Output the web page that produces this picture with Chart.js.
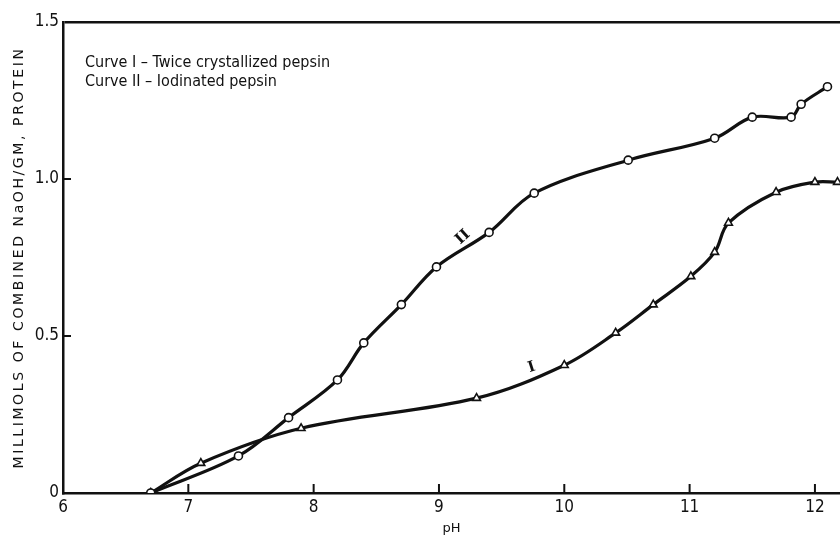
<!DOCTYPE html>
<html>
<head>
<meta charset="utf-8">
<script src="https://cdn.jsdelivr.net/npm/chart.js@4"></script>
<style>
  html, body { margin: 0; padding: 0; background: #fff; }
  #wrap { width: 840px; height: 538px; }
</style>
</head>
<body>
<div id="wrap"><canvas id="myChart" width="840" height="538"></canvas></div>
<script>
// Curve II - iodinated pepsin (circles)
const phII = [6.7, 7.4, 7.8, 8.19, 8.4, 8.7, 8.98, 9.4, 9.76, 10.51, 11.2, 11.5, 11.81, 11.89, 12.1];
const valII = [0, 0.118, 0.24, 0.36, 0.478, 0.60, 0.72, 0.83, 0.955, 1.06, 1.13, 1.197, 1.197, 1.238, 1.294];

// Curve I - twice crystallized pepsin (triangles)
const phI = [6.7, 7.1, 7.9, 9.3, 10.0, 10.41, 10.71, 11.01, 11.2, 11.31, 11.69, 12.0, 12.18];
const valI = [0, 0.095, 0.206, 0.302, 0.407, 0.51, 0.60, 0.69, 0.767, 0.86, 0.958, 0.99, 0.99];

const xTicks = [6, 7, 8, 9, 10, 11, 12];
const yTicks = [0, 0.5, 1.0, 1.5];
const yTickLabels = ['0', '0.5', '1.0', '1.5'];

const yTitle = 'MILLIMOLS OF COMBINED NaOH/GM, PROTEIN';
const legendLines = ['Curve I \u2013 Twice crystallized pepsin', 'Curve II \u2013 Iodinated pepsin'];
// curve tags: [pH, value, text, angle]
const curveTags = [[9.19, 0.815, 'II', -42], [9.74, 0.40, 'I', -18]];

const toPoints = (xs, ys) => xs.map((x, i) => ({ x: x, y: ys[i] }));

const INK = '#111';
const FONT = "'DejaVu Sans Condensed', 'Liberation Sans Narrow', 'DejaVu Sans', sans-serif";

const extras = {
  id: 'extras',
  afterDraw(chart) {
    const ctx = chart.ctx;
    const xs = chart.scales.x;
    const ys = chart.scales.y;
    const area = chart.chartArea;
    ctx.save();
    ctx.strokeStyle = INK;
    ctx.lineWidth = 2;
    // inward tick marks
    xTicks.slice(1).forEach((v) => {
      const px = xs.getPixelForValue(v);
      ctx.beginPath();
      ctx.moveTo(px, area.bottom);
      ctx.lineTo(px, area.bottom - 9);
      ctx.stroke();
    });
    [0.5, 1.0].forEach((v) => {
      const py = ys.getPixelForValue(v);
      ctx.beginPath();
      ctx.moveTo(area.left, py);
      ctx.lineTo(area.left + 8, py);
      ctx.stroke();
    });
    // y axis title, letter-spaced like the original lettering
    ctx.fillStyle = INK;
    ctx.save();
    ctx.translate(19, (area.top + area.bottom) / 2);
    ctx.rotate(-Math.PI / 2);
    ctx.font = "14px 'DejaVu Sans', sans-serif";
    ctx.letterSpacing = '2.6px';
    ctx.textAlign = 'center';
    ctx.textBaseline = 'middle';
    ctx.fillText(yTitle, 0, 0);
    ctx.restore();
    // legend text
    ctx.font = '16px ' + FONT;
    ctx.textBaseline = 'middle';
    ctx.textAlign = 'left';
    legendLines.forEach((t, i) => {
      ctx.fillText(t, area.left + 22, area.top + 41 + i * 19);
    });
    // curve tags
    ctx.font = 'bold 15px DejaVu Serif, serif';
    ctx.textAlign = 'center';
    curveTags.forEach(([x, y, t, a]) => {
      ctx.save();
      ctx.translate(xs.getPixelForValue(x), ys.getPixelForValue(y));
      ctx.rotate(a * Math.PI / 180);
      ctx.fillText(t, 0, 0);
      ctx.restore();
    });
    ctx.restore();
  },
};

const ctx = document.getElementById('myChart').getContext('2d');
const myChart = new Chart(ctx, {
  type: 'line',
  data: {
    datasets: [
      {
        label: 'Curve II',
        data: toPoints(phII, valII),
        borderColor: INK,
        borderWidth: 3.2,
        tension: 0.35,
        fill: false,
        pointStyle: 'circle',
        pointRadius: 4,
        pointBorderWidth: 1.6,
        pointBackgroundColor: '#fff',
        pointBorderColor: INK,
      },
      {
        label: 'Curve I',
        data: toPoints(phI, valI),
        borderColor: INK,
        borderWidth: 3.2,
        tension: 0.35,
        fill: false,
        pointStyle: 'triangle',
        pointRadius: 4.5,
        pointBorderWidth: 1.6,
        pointBackgroundColor: '#fff',
        pointBorderColor: INK,
      },
    ],
  },
  options: {
    responsive: false,
    animation: false,
    layout: { autoPadding: false, padding: { top: 22, right: 0, left: 0, bottom: 0 } },
    plugins: {
      legend: { display: false },
      tooltip: { enabled: false },
    },
    scales: {
      x: {
        type: 'linear',
        min: 6,
        max: 12.2,
        afterBuildTicks: (scale) => {
          scale.ticks = xTicks.map((v) => ({ value: v }));
        },
        afterFit: (scale) => {
          scale.height = 45;
          scale.paddingRight = 0;
          scale.paddingLeft = 0;
        },
        grid: { display: false, drawTicks: false },
        border: { display: true, color: INK, width: 2.5 },
        ticks: {
          color: INK,
          padding: 4,
          autoSkip: false,
          maxRotation: 0,
          font: { family: FONT, size: 17 },
        },
        title: {
          display: true,
          text: 'pH',
          color: INK,
          font: { family: "'DejaVu Sans', sans-serif", size: 13 },
          padding: { top: 0, bottom: 2 },
        },
      },
      y: {
        min: 0,
        max: 1.5,
        afterBuildTicks: (scale) => {
          scale.ticks = yTicks.map((v) => ({ value: v }));
        },
        afterFit: (scale) => {
          scale.width = 63;
          scale.paddingTop = 0;
          scale.paddingBottom = 0;
        },
        grid: {
          drawTicks: false,
          lineWidth: 2.5,
          color: (c) => (c.tick && c.tick.value === 1.5 ? INK : 'rgba(0,0,0,0)'),
        },
        border: { display: true, color: INK, width: 2.5 },
        ticks: {
          color: INK,
          padding: 4,
          font: { family: FONT, size: 17 },
          callback: (v) => yTickLabels[yTicks.indexOf(v)],
        },
        title: { display: false },
      },
    },
  },
  plugins: [extras],
});
</script>
</body>
</html>
